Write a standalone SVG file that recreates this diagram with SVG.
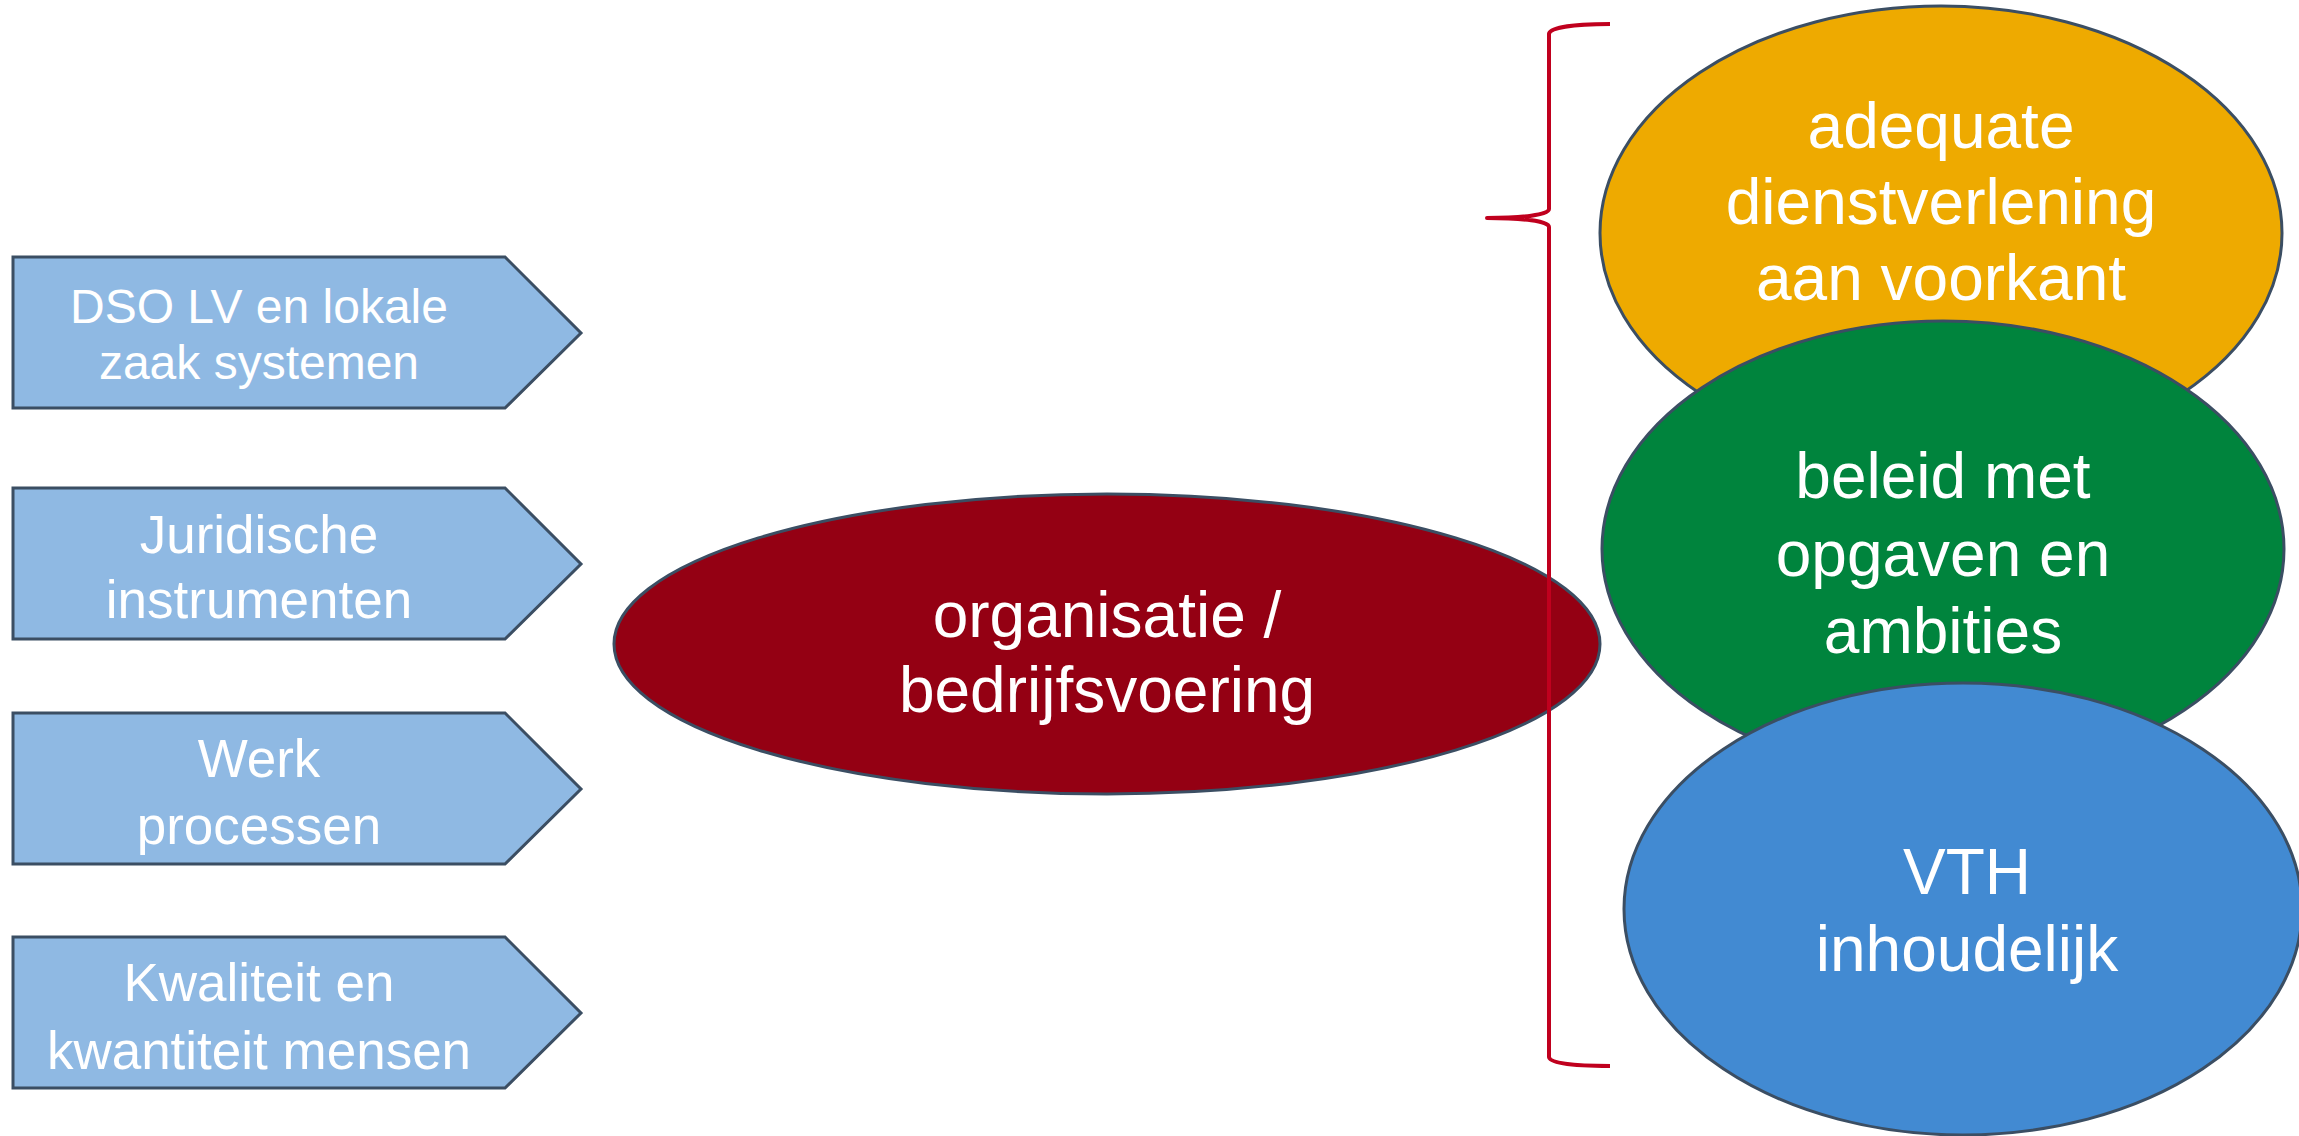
<svg xmlns="http://www.w3.org/2000/svg" width="2299" height="1136" viewBox="0 0 2299 1136">
<style>
.bg{fill:#ffffff}
.pent{fill:#8FB9E3;stroke:#3B4E63;stroke-width:3}
.ell{stroke:#3B4E63;stroke-width:3}
.t{font-family:"Liberation Sans",Arial,sans-serif;fill:#ffffff;text-anchor:middle}
.ts{font-size:48px}
.tm{font-size:53px}
.tl{font-size:64px}
.brace{fill:none;stroke:#C0001E;stroke-width:4;stroke-linejoin:round}
</style>
<rect class="bg" x="0" y="0" width="2299" height="1136"/>
<g id="node-dso">
<polygon class="pent" points="13,257 505,257 581,333 505,408 13,408"/>
<text class="t ts" x="259" y="323">DSO LV en lokale</text>
<text class="t ts" x="259" y="379">zaak systemen</text>
</g>
<g id="node-juridische">
<polygon class="pent" points="13,488 505,488 581,564 505,639 13,639"/>
<text class="t tm" x="259" y="553">Juridische</text>
<text class="t tm" x="259" y="618">instrumenten</text>
</g>
<g id="node-werk">
<polygon class="pent" points="13,713 505,713 581,789 505,864 13,864"/>
<text class="t tm" x="259" y="777">Werk</text>
<text class="t tm" x="259" y="844">processen</text>
</g>
<g id="node-kwaliteit">
<polygon class="pent" points="13,937 505,937 581,1013 505,1088 13,1088"/>
<text class="t tm" x="259" y="1001">Kwaliteit en</text>
<text class="t tm" x="259" y="1069">kwantiteit mensen</text>
</g>
<g id="node-organisatie">
<ellipse class="ell" cx="1107" cy="644" rx="493" ry="150" fill="#940013"/>
<text class="t tl" x="1107" y="637">organisatie /</text>
<text class="t tl" x="1107" y="712">bedrijfsvoering</text>
</g>
<g id="connectors">
<path class="brace" d="M1610,24 C1572,24 1549,28 1549,34 L1549,209 C1549,215 1522,218 1487,218 C1522,218 1549,221 1549,227 L1549,1057 C1549,1063 1572,1066 1610,1066"/>
</g>
<g id="node-adequate">
<ellipse class="ell" cx="1941" cy="233" rx="341" ry="227" fill="#EEAA00"/>
<text class="t tl" x="1941" y="148">adequate</text>
<text class="t tl" x="1941" y="224">dienstverlening</text>
<text class="t tl" x="1941" y="300">aan voorkant</text>
</g>
<g id="node-beleid">
<ellipse class="ell" cx="1943" cy="549" rx="341" ry="228" fill="#00843D"/>
<text class="t tl" x="1943" y="498">beleid met</text>
<text class="t tl" x="1943" y="576">opgaven en</text>
<text class="t tl" x="1943" y="653">ambities</text>
</g>
<g id="node-vth">
<ellipse class="ell" cx="1963" cy="909" rx="339" ry="226" fill="#428AD2"/>
<text class="t tl" x="1967" y="894">VTH</text>
<text class="t tl" x="1967" y="971">inhoudelijk</text>
</g>
</svg>
